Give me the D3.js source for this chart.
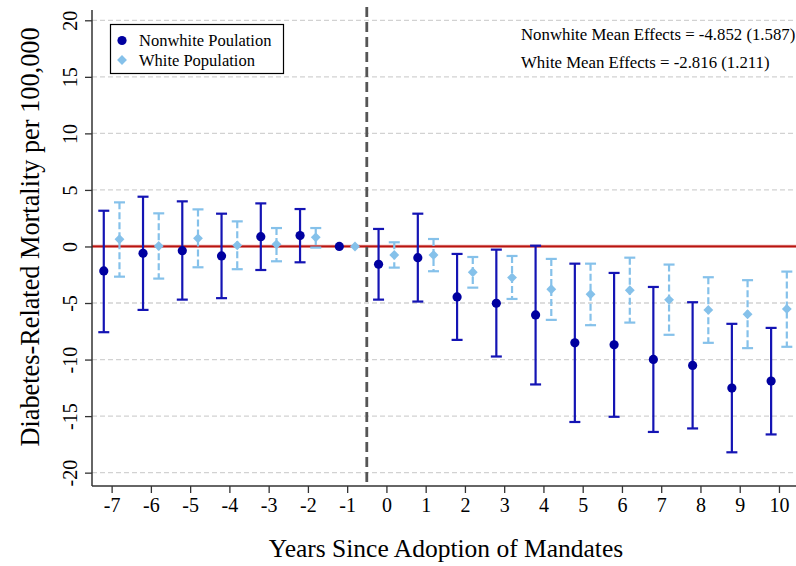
<!DOCTYPE html>
<html>
<head>
<meta charset="utf-8">
<script src="https://cdn.jsdelivr.net/npm/d3@7"></script>
<style>
  html, body { margin: 0; padding: 0; background: #fff; }
  svg { display: block; }
  svg text { font-family: "Liberation Serif", "Times New Roman", serif; }
</style>
</head>
<body>
<svg id="chart" width="796" height="566"></svg>
<script>
// Event-study estimates by years relative to mandate adoption (reference year -1 fixed at 0)
const years = [-7, -6, -5, -4, -3, -2, -1, 0, 1, 2, 3, 4, 5, 6, 7, 8, 9, 10];

const nonwhiteEst = [-2.16, -0.60, -0.37, -0.84, 0.87, 0.96, 0, -1.57, -0.99, -4.46, -5.02, -6.05, -8.52, -8.70, -9.99, -10.52, -12.52, -11.90];
const nonwhiteLo  = [-7.58, -5.61, -4.70, -4.57, -2.08, -1.40, null, -4.70, -4.87, -8.26, -9.73, -12.20, -15.52, -15.06, -16.40, -16.09, -18.20, -16.62];
const nonwhiteHi  = [3.16, 4.40, 3.99, 2.90, 3.81, 3.31, null, 1.55, 2.90, -0.66, -0.28, 0.07, -1.52, -2.34, -3.58, -4.93, -6.84, -7.20];

const whiteEst = [0.64, 0.04, 0.72, 0.10, 0.19, 0.81, 0, -0.75, -0.75, -2.28, -2.75, -3.78, -4.22, -3.87, -4.72, -5.61, -5.99, -5.52];
const whiteLo  = [-2.67, -2.84, -1.84, -2.01, -1.31, -0.10, null, -1.87, -2.19, -3.64, -4.64, -6.49, -6.96, -6.73, -7.81, -8.52, -8.99, -8.87];
const whiteHi  = [3.90, 2.93, 3.28, 2.22, 1.63, 1.63, null, 0.37, 0.66, -0.93, -0.84, -1.10, -1.52, -0.99, -1.60, -2.72, -2.98, -2.22];

const yTicks = [-20, -15, -10, -5, 0, 5, 10, 15, 20];
const seriesNames = ["Nonwhite Poulation", "White Population"];
const meanNotes = ["Nonwhite Mean Effects = -4.852 (1.587)", "White Mean Effects = -2.816 (1.211)"];
const xTitle = "Years Since Adoption of Mandates";
const yTitle = "Diabetes-Related Mortality per 100,000";
const adoptionLine = -0.5;

const navy = "#0000a0";
const navyLine = "#1414b4";
const sky = "#85c1ea";
const serif = '"Liberation Serif", "Times New Roman", serif';

const svg = d3.select("#chart");
const plotL = 92, plotR = 798.6, plotT = 10, plotB = 486;

const x = d3.scaleLinear().domain([-7.5, 10.5]).range([plotL, plotR]);
const y = d3.scaleLinear().domain([-21.18, 20.91]).range([plotB, plotT]);
const shift = 0.2;
const hyphenFmt = d => String(d);

// horizontal dashed grid
svg.append("g").selectAll("line")
  .data(yTicks.filter(d => d !== 0))
  .join("line")
  .attr("x1", plotL).attr("x2", 796)
  .attr("y1", d => y(d)).attr("y2", d => y(d))
  .attr("stroke", "#d2d2d2").attr("stroke-width", 1.3)
  .attr("stroke-dasharray", "5,3");

// zero reference line
svg.append("line")
  .attr("x1", plotL).attr("x2", 796)
  .attr("y1", y(0)).attr("y2", y(0))
  .attr("stroke", "#e8a0a0").attr("stroke-width", 3.2);
svg.append("line")
  .attr("x1", plotL).attr("x2", 796)
  .attr("y1", y(0)).attr("y2", y(0))
  .attr("stroke", "#b8140f").attr("stroke-width", 1.8);

// adoption marker
svg.append("line")
  .attr("x1", x(adoptionLine)).attr("x2", x(adoptionLine))
  .attr("y1", 7).attr("y2", plotB)
  .attr("stroke", "#555").attr("stroke-width", 2.8)
  .attr("stroke-dasharray", "10,5");

// axes
const yAxis = svg.append("g")
  .attr("transform", `translate(${plotL},0)`)
  .call(d3.axisLeft(y).tickValues(yTicks).tickSize(7).tickFormat(hyphenFmt))
  .attr("font-family", serif);
yAxis.select(".domain").attr("d", `M0,${plotT}V${plotB}`);
yAxis.selectAll("text")
  .attr("transform", "rotate(-90)")
  .attr("x", 0).attr("dy", 0)
  .attr("y", -15)
  .attr("text-anchor", "middle")
  .style("font-size", "20px")
  .attr("fill", "#000");

const xAxis = svg.append("g")
  .attr("transform", `translate(0,${plotB})`)
  .call(d3.axisBottom(x).tickValues(years).tickSize(7).tickFormat(hyphenFmt))
  .attr("font-family", serif);
xAxis.select(".domain").attr("d", `M${plotL},0H796`);
xAxis.selectAll("text")
  .attr("y", 12).attr("dy", "0.71em")
  .style("font-size", "20px")
  .attr("fill", "#000");

svg.selectAll(".domain").attr("stroke", "#333").attr("stroke-width", 1.5);
svg.selectAll(".tick line").attr("stroke", "#333").attr("stroke-width", 1.3);

// build rows
const nonwhite = years.map((yr, i) => ({ yr, est: nonwhiteEst[i], lo: nonwhiteLo[i], hi: nonwhiteHi[i] }));
const white = years.map((yr, i) => ({ yr, est: whiteEst[i], lo: whiteLo[i], hi: whiteHi[i] }));

function drawCI(data, off, color, dash) {
  const g = svg.append("g");
  const rows = data.filter(d => d.lo !== null);
  g.selectAll("line.v").data(rows).join("line").attr("class", "v")
    .attr("x1", d => x(d.yr + off)).attr("x2", d => x(d.yr + off))
    .attr("y1", d => y(d.hi)).attr("y2", d => y(d.lo))
    .attr("stroke", color).attr("stroke-width", 2.2)
    .attr("stroke-dasharray", dash);
  ["lo", "hi"].forEach(k => {
    g.selectAll("line." + k).data(rows).join("line").attr("class", k)
      .attr("x1", d => x(d.yr + off) - 5.5).attr("x2", d => x(d.yr + off) + 5.5)
      .attr("y1", d => y(d[k])).attr("y2", d => y(d[k]))
      .attr("stroke", color).attr("stroke-width", 2.2);
  });
}
drawCI(nonwhite, -shift, navyLine, null);
drawCI(white, shift, sky, "7,3");

svg.append("g").selectAll("circle").data(nonwhite).join("circle")
  .attr("cx", d => x(d.yr - shift)).attr("cy", d => y(d.est))
  .attr("r", 4.6).attr("fill", navy);

const diamond = d3.symbol().type(d3.symbolDiamond2).size(62);
svg.append("g").selectAll("path").data(white).join("path")
  .attr("transform", d => `translate(${x(d.yr + shift)},${y(d.est)})`)
  .attr("d", diamond).attr("fill", sky);

// legend
const lg = svg.append("g");
lg.append("rect").attr("x", 110.5).attr("y", 24.5).attr("width", 173).attr("height", 49)
  .attr("fill", "#fff").attr("stroke", "#000").attr("stroke-width", 1.2);
lg.append("circle").attr("cx", 122).attr("cy", 40.5).attr("r", 4.6).attr("fill", navy);
lg.append("path").attr("transform", "translate(122,60)").attr("d", diamond).attr("fill", sky);
lg.selectAll("text").data(seriesNames).join("text")
  .attr("x", 139).attr("y", (d, i) => 46 + i * 19.5)
  .style("font-size", "16.5px").attr("fill", "#000").text(d => d);

// mean effect notes
svg.append("g").selectAll("text").data(meanNotes).join("text")
  .attr("x", 521).attr("y", (d, i) => 40 + i * 27.5)
  .style("font-size", "16.8px").attr("fill", "#000").text(d => d);

// axis titles
svg.append("text")
  .attr("x", 446).attr("y", 557).attr("text-anchor", "middle")
  .style("font-size", "25.5px").attr("fill", "#000").text(xTitle);
svg.append("text")
  .attr("transform", "translate(39,237) rotate(-90)").attr("text-anchor", "middle")
  .style("font-size", "26.3px").attr("fill", "#000").text(yTitle);
</script>
</body>
</html>
